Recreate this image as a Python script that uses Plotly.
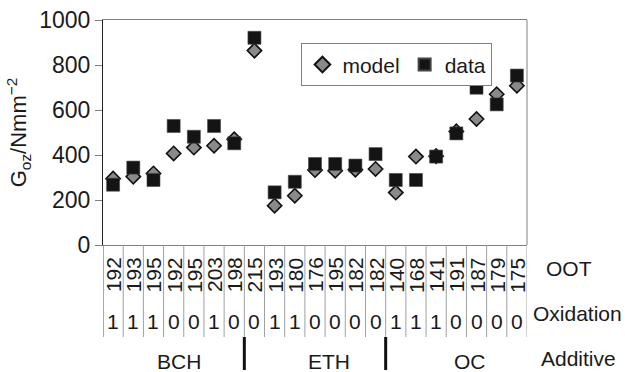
import plotly.graph_objects as go

oot = ["192", "193", "195", "192", "195", "203", "198",
       "215", "193", "180", "176", "195", "182", "182",
       "140", "168", "141", "191", "187", "179", "175"]
oxidation = ["1", "1", "1", "0", "0", "1", "0",
             "0", "1", "1", "0", "0", "0", "0",
             "1", "1", "1", "0", "0", "0", "0"]
groups = ["BCH", "ETH", "OC"]
group_label_pos = [3.26, 10.69, 17.7]
group_breaks = [6.5, 13.5]
model = [295, 304, 318, 407, 433, 441, 470,
         864, 175, 219, 333, 330, 335, 338,
         233, 393, 395, 505, 560, 670, 708]
data = [268, 344, 289, 529, 481, 529, 452,
        921, 234, 281, 360, 360, 353, 404,
        289, 289, 393, 496, 699, 625, 753]
y_ticks = [0, 200, 400, 600, 800, 1000]
row_names = ["OOT", "Oxidation", "Additive"]

FONT = "Liberation Sans, Arial, sans-serif"
xs = list(range(len(oot)))

fig = go.Figure()
fig.add_trace(go.Scatter(
    x=xs, y=model, mode="markers", name="model",
    marker=dict(symbol="diamond", size=11, color="#8a8a8a",
                line=dict(color="#111111", width=1.6)),
))
fig.add_trace(go.Scatter(
    x=xs, y=data, mode="markers", name="data",
    marker=dict(symbol="square", size=13, color="#141414",
                line=dict(color="#444444", width=0.6)),
))

shapes = []
annotations = []
n = len(oot)
Y_LINE_BOTTOM = -92 / 225
Y_SEP_BOTTOM = -125 / 225
for k in range(n + 1):
    xb = k - 0.5
    shapes.append(dict(type="line", xref="x", yref="paper",
                       x0=xb, x1=xb, y0=0, y1=Y_LINE_BOTTOM,
                       line=dict(color="#555555" if k == 0 else "#a0a0a0", width=1)))
for xb in group_breaks:
    shapes.append(dict(type="line", xref="x", yref="paper",
                       x0=xb, x1=xb, y0=Y_LINE_BOTTOM, y1=Y_SEP_BOTTOM,
                       line=dict(color="#111111", width=3)))
# right frame edge
shapes.append(dict(type="line", xref="paper", yref="paper",
                   x0=1, x1=1, y0=0, y1=1,
                   line=dict(color="#808080", width=1)))

for i, (o, ox) in enumerate(zip(oot, oxidation)):
    annotations.append(dict(x=i, y=-30 / 225, xref="x", yref="paper",
                            text=o, showarrow=False, textangle=-90,
                            xanchor="center", yanchor="middle",
                            font=dict(family=FONT, size=21, color="#1a1a1a")))
    annotations.append(dict(x=i, y=-76 / 225, xref="x", yref="paper",
                            text=ox, showarrow=False,
                            xanchor="center", yanchor="middle",
                            font=dict(family=FONT, size=21, color="#1a1a1a")))
for g, gx in zip(groups, group_label_pos):
    annotations.append(dict(x=gx, y=-116 / 225, xref="x", yref="paper",
                            text=g, showarrow=False,
                            xanchor="center", yanchor="middle",
                            font=dict(family=FONT, size=21, color="#1a1a1a")))
row_pos = [(1.100, -23 / 225), (1.118, -68 / 225), (1.1225, -113 / 225)]
for name, (rx, ry) in zip(row_names, row_pos):
    annotations.append(dict(x=rx, y=ry, xref="paper", yref="paper",
                            text=name, showarrow=False,
                            xanchor="center", yanchor="middle",
                            font=dict(family=FONT, size=21, color="#1a1a1a")))

fig.update_layout(
    width=625, height=372,
    margin=dict(l=103, r=97.5, t=20, b=127, autoexpand=False),
    paper_bgcolor="white", plot_bgcolor="white",
    font=dict(family=FONT, size=21, color="#1a1a1a"),
    showlegend=True,
    legend=dict(orientation="h", x=0.468, y=0.896, xanchor="left", yanchor="top",
                bordercolor="#808080", borderwidth=1, bgcolor="white",
                font=dict(family=FONT, size=21, color="#1a1a1a"),
                itemwidth=30, tracegroupgap=0,
                itemsizing="constant"),
    xaxis=dict(range=[-0.5, n - 0.5], showticklabels=False, ticks="",
               showgrid=False, zeroline=False, showline=True, mirror=True,
               linecolor="#808080", linewidth=1, fixedrange=True),
    yaxis=dict(range=[0, 1000], tickvals=y_ticks, ticks="outside", ticklen=7,
               tickcolor="#808080", showgrid=False, zeroline=False,
               showline=True, linecolor="#222222", linewidth=1,
               tickfont=dict(family=FONT, size=23, color="#1a1a1a"),
               title=dict(text="G<sub>oz</sub>/Nmm<sup>−2</sup>", standoff=6,
                          font=dict(family=FONT, size=22, color="#1a1a1a"))),
    shapes=shapes,
    annotations=annotations,
)

fig.write_html("out.html")
